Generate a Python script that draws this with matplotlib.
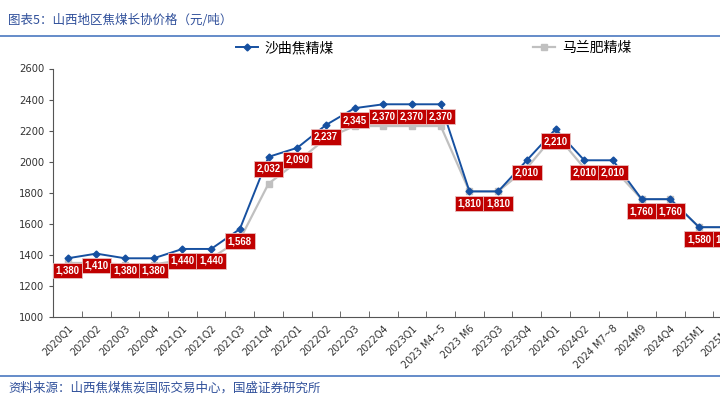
import matplotlib
matplotlib.use("Agg")
import matplotlib.pyplot as plt
from matplotlib.lines import Line2D

plt.rcParams['font.family'] = ['DejaVu Sans', 'Noto Sans CJK SC']

categories = ["2020Q1", "2020Q2", "2020Q3", "2020Q4", "2021Q1", "2021Q2", "2021Q3", "2021Q4",
              "2022Q1", "2022Q2", "2022Q3", "2022Q4", "2023Q1", "2023 M4~5", "2023 M6", "2023Q3",
              "2023Q4", "2024Q1", "2024Q2", "2024 M7~8", "2024M9", "2024Q4", "2025M1", "2025M2"]
shaqu = [1380, 1410, 1380, 1380, 1440, 1440, 1568, 2032, 2090, 2237, 2345, 2370,
         2370, 2370, 1810, 1810, 2010, 2210, 2010, 2010, 1760, 1760, 1580, 1580]
malan = [1350, 1350, 1340, 1340, 1370, 1380, 1500, 1860, 2000, 2150, 2230, 2230,
         2230, 2230, 1810, 1810, 1960, 2180, 1960, 1960, 1760, 1760, 1580, 1580]

title = "图表5：山西地区焦煤长协价格（元/吨）"
source = "资料来源：山西焦煤焦炭国际交易中心，国盛证券研究所"
cjk = ['Noto Sans CJK SC', 'DejaVu Sans']

BLUE = "#1650A0"
GREY = "#C0C0C0"
RED = "#C00000"
HEAD = "#2F4F9A"

W, H = 720, 399
fig = plt.figure(figsize=(W / 100, H / 100), dpi=100)

# header / footer
fig.text(8 / W, 1 - 20 / H, title, family=cjk, fontsize=9, color=HEAD, va='center')
fig.add_artist(Line2D([0, 1], [1 - 36 / H, 1 - 36 / H], color="#4A78C0", lw=1.2))
fig.add_artist(Line2D([0, 1], [1 - 376 / H, 1 - 376 / H], color="#4A78C0", lw=1.2))
fig.text(8 / W, 1 - 388 / H, source, family=cjk, fontsize=9, color=HEAD, va='center')

# axes run past the right edge, as in the reference
left, bottom_px, top_px, step = 53.3, 317.4, 68.5, 28.7
n = len(categories)
ax = fig.add_axes([left / W, 1 - bottom_px / H, n * step / W, (bottom_px - top_px) / H])

x = list(range(n))
ax.plot(x, malan, color=GREY, lw=1.6, marker='s', ms=5, zorder=2, label="马兰肥精煤")
ax.plot(x, shaqu, color=BLUE, lw=1.4, marker='D', ms=3.5, zorder=3, label="沙曲焦精煤")

for i, v in enumerate(shaqu):
    ax.annotate(f"{v:,}", (i, v), xytext=(0, -12), textcoords='offset pixels',
                ha='center', va='center', fontsize=6.9, fontweight='bold', color='white',
                family=['Liberation Sans', 'DejaVu Sans'],
                bbox=dict(boxstyle='square,pad=0.28', fc=RED, ec='#E8C0C0', lw=0.6), zorder=5)

ax.set_xlim(-0.5, n - 0.5)
ax.set_ylim(1000, 2600)
ax.set_yticks(range(1000, 2601, 200))
ax.set_xticks(x)
ax.set_xticklabels(categories, rotation=45, ha='right', rotation_mode='anchor')
ax.set_xticks([i + 0.5 for i in range(n)], minor=True)
ax.tick_params(axis='x', which='major', length=0, labelsize=7, colors='#333333', pad=4)
ax.tick_params(axis='x', which='minor', length=4, direction='in', color='#555555')
ax.tick_params(axis='y', length=3, direction='out', labelsize=7.2, colors='#333333', color='#555555')
for s in ['top', 'right']:
    ax.spines[s].set_visible(False)
for s in ['left', 'bottom']:
    ax.spines[s].set_color('#555555')
    ax.spines[s].set_linewidth(0.8)

h_blue = Line2D([], [], color=BLUE, lw=1.4, marker='D', ms=3.5)
h_grey = Line2D([], [], color=GREY, lw=1.6, marker='s', ms=5)
fig.legend([h_blue], ["沙曲焦精煤"], loc='center', bbox_to_anchor=(285 / W, 1 - 48 / H),
           frameon=False, prop={'family': cjk, 'size': 10}, handlelength=1.6, handletextpad=0.5)
fig.legend([h_grey], ["马兰肥精煤"], loc='center', bbox_to_anchor=(582 / W, 1 - 48 / H),
           frameon=False, prop={'family': cjk, 'size': 10}, handlelength=1.6, handletextpad=0.5)

fig.savefig("out.png", dpi=100)
